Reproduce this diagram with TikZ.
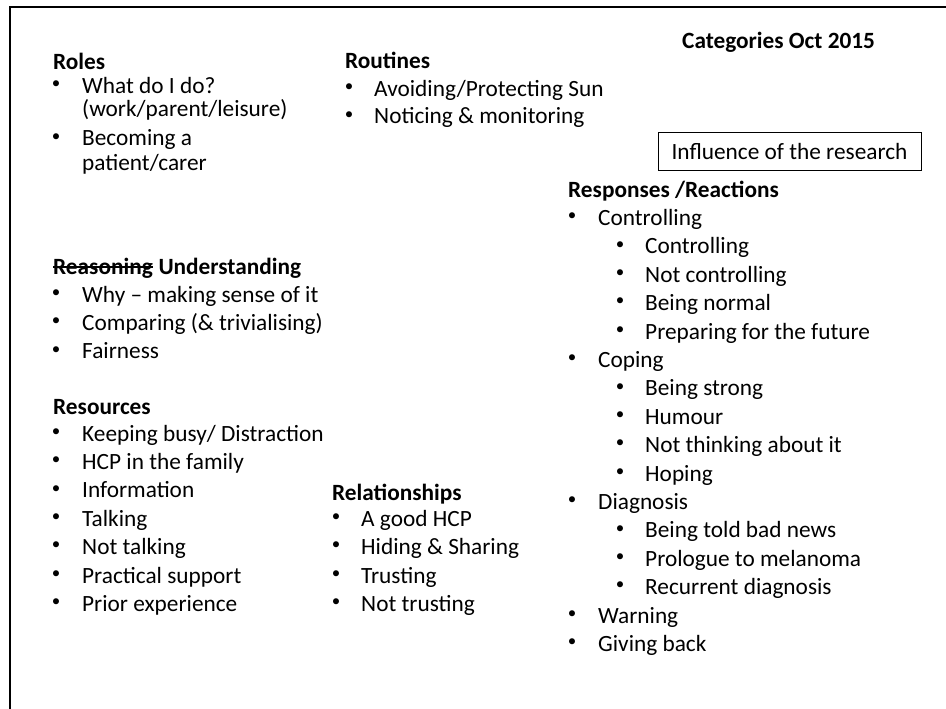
\documentclass[tikz,border=0pt]{standalone}
\usepackage{fontspec}
\setmainfont{Carlito}
\newcommand{\fs}{\fontsize{23.3}{28}\selectfont}
\newcommand{\bs}{\fontsize{17}{20}\selectfont}
\newcommand{\Itm}[5]{%
  \node[bul] (#1-b) at (#2,#4-8.5) {•};
  \node[txt] (#1) at (#3,#4) {#5};}
\begin{document}
\begin{tikzpicture}[x=1pt,y=-1pt,
  txt/.style={anchor=base west, inner sep=0pt, font=\fs},
  hd/.style={anchor=base west, inner sep=0pt, font=\fs\bfseries},
  bul/.style={anchor=center, inner sep=0pt, font=\bs},
  frame/.style={line width=2.5pt},
  strike/.style={line width=1.5pt},
  boxed/.style={draw, line width=1pt, minimum width=263pt, minimum height=38pt, inner sep=0pt, font=\fs}]
\useasboundingbox (0,0) rectangle (946,709);
\fill[white] (0,0) rectangle (946,709);
\coordinate (fbl) at (10,709);
\coordinate (ftr) at (946,7);
\draw[frame] (fbl) |- (ftr);

% Roles
\node[hd] (roles) at (53,70) {Roles};
\Itm{r1}{56}{82}{93}{What do I do?}
\node[txt] (r1b) at (82,117) {(work/parent/leisure)};
\Itm{r2}{56}{82}{146}{Becoming a}
\node[txt] (r2b) at (82,170) {patient/carer};

% Routines
\node[hd] (routines) at (345,69) {Routines};
\Itm{ro1}{349}{374}{96}{Avoiding/Protecting Sun}
\Itm{ro2}{349}{374}{124}{Noticing \& monitoring}

% Title
\node[hd] (title) at (682,49) {Categories Oct 2015};
\node[boxed] (infl) at (789.5,151) {Influence of the research};

% Understanding
\node[hd] (reason) at (53,274) {Reasoning};
\node[hd] (under) at ([xshift=5.3pt]reason.base east) {Understanding};
\draw[strike] ([yshift=7pt]reason.base west) -- ([yshift=7pt]reason.base east);
\Itm{u1}{56}{82}{302}{Why -- making sense of it}
\Itm{u2}{56}{82}{330.4}{Comparing (\& trivialising)}
\Itm{u3}{56}{82}{358.8}{Fairness}

% Resources
\node[hd] (res) at (53,414) {Resources};
\Itm{s1}{56}{82}{441}{Keeping busy/ Distraction}
\Itm{s2}{56}{82}{469.4}{HCP in the family}
\Itm{s3}{56}{82}{497.8}{Information}
\Itm{s4}{56}{82}{526.2}{Talking}
\Itm{s5}{56}{82}{554.6}{Not talking}
\Itm{s6}{56}{82}{583}{Practical support}
\Itm{s7}{56}{82}{611.4}{Prior experience}

% Relationships
\node[hd] (rel) at (332,500) {Relationships};
\Itm{l1}{336}{361}{526.2}{A good HCP}
\Itm{l2}{336}{361}{554.6}{Hiding \& Sharing}
\Itm{l3}{336}{361}{583}{Trusting}
\Itm{l4}{336}{361}{611.4}{Not trusting}

% Responses
\node[hd] (resp) at (568,197) {Responses /Reactions};
\Itm{p1}{572}{598}{225.4}{Controlling}
\Itm{p1a}{620}{645}{253.8}{Controlling}
\Itm{p1b}{620}{645}{282.2}{Not controlling}
\Itm{p1c}{620}{645}{310.6}{Being normal}
\Itm{p1d}{620}{645}{339}{Preparing for the future}
\Itm{p2}{572}{598}{367.4}{Coping}
\Itm{p2a}{620}{645}{395.8}{Being strong}
\Itm{p2b}{620}{645}{424.2}{Humour}
\Itm{p2c}{620}{645}{452.6}{Not thinking about it}
\Itm{p2d}{620}{645}{481}{Hoping}
\Itm{p3}{572}{598}{509.4}{Diagnosis}
\Itm{p3a}{620}{645}{537.8}{Being told bad news}
\Itm{p3b}{620}{645}{566.2}{Prologue to melanoma}
\Itm{p3c}{620}{645}{594.6}{Recurrent diagnosis}
\Itm{p4}{572}{598}{623}{Warning}
\Itm{p5}{572}{598}{651.4}{Giving back}
\end{tikzpicture}
\end{document}
